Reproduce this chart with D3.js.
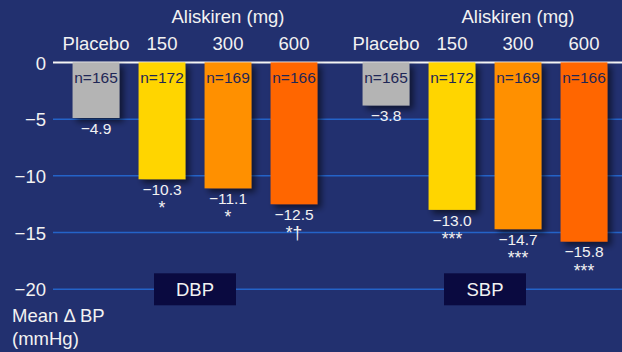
<!DOCTYPE html>
<html>
<head>
<meta charset="utf-8">
<script src="https://cdn.jsdelivr.net/npm/d3@7"></script>
<style>
  html, body { margin: 0; padding: 0; background: #22306f; }
  svg { display: block; font-family: "Liberation Sans", Arial, sans-serif; }
</style>
</head>
<body>
<svg id="chart" width="622" height="352"></svg>
<script>
// Mean change in blood pressure by dose, diastolic and systolic
const groups = ["DBP", "SBP"];
const doses = ["Placebo", "150", "300", "600"];
const dbpValues = [-4.9, -10.3, -11.1, -12.5];
const sbpValues = [-3.8, -13.0, -14.7, -15.8];
const dbpN = [165, 172, 169, 166];
const sbpN = [165, 172, 169, 166];
const dbpSig = ["", "*", "*", "*\u2020"];
const sbpSig = ["", "***", "***", "***"];
const yTicks = [0, -5, -10, -15, -20];
const doseColors = ["#b4b4b4", "#ffd500", "#ff9000", "#ff6600"];

const rows = [];
groups.forEach((g, gi) => {
  const vals = gi === 0 ? dbpValues : sbpValues;
  const ns = gi === 0 ? dbpN : sbpN;
  const sig = gi === 0 ? dbpSig : sbpSig;
  doses.forEach((d, i) => rows.push({ group: g, dose: d, value: vals[i], n: ns[i], sig: sig[i], color: doseColors[i] }));
});

const svg = d3.select("#chart");
const W = 622;

const y = d3.scaleLinear().domain([0, -20]).range([62.4, 289.3]);
const groupRange = { DBP: [63, 327], SBP: [353, 617] };
const x1 = {};
groups.forEach(g => {
  x1[g] = d3.scaleBand().domain(doses).range(groupRange[g]).paddingInner(0.29).paddingOuter(0.145);
});

// soft drop shadow behind bars
const defs = svg.append("defs");
const f = defs.append("filter").attr("id", "shadow").attr("x", "-20%").attr("y", "-20%").attr("width", "150%").attr("height", "150%");
f.append("feGaussianBlur").attr("in", "SourceAlpha").attr("stdDeviation", 3).attr("result", "b");
f.append("feOffset").attr("in", "b").attr("dx", 4).attr("dy", 4).attr("result", "o");
f.append("feComponentTransfer").attr("in", "o").attr("result", "s")
  .append("feFuncA").attr("type", "linear").attr("slope", 0.55);
const m = f.append("feMerge");
m.append("feMergeNode").attr("in", "s");
m.append("feMergeNode").attr("in", "SourceGraphic");

// y axis labels
const yAxis = d3.axisLeft(y).tickValues(yTicks).tickSize(0).tickPadding(0)
  .tickFormat(d => d === 0 ? "0" : "\u2212" + Math.abs(d));
const axisG = svg.append("g").attr("transform", "translate(46,0)").call(yAxis);
axisG.select(".domain").remove();
axisG.selectAll("text").attr("fill", "#f2f2f2").attr("font-size", 18.5).attr("dy", "0.36em")
  .attr("font-family", "Liberation Sans, Arial, sans-serif");

// gridlines, zero line in white
svg.append("g").selectAll("line").data(yTicks).join("line")
  .attr("x1", 53).attr("x2", W)
  .attr("y1", d => y(d)).attr("y2", d => y(d))
  .attr("stroke", d => d === 0 ? "#f4f4f4" : "#2463c8")
  .attr("stroke-width", d => d === 0 ? 2 : 1.5);

// bars
const bar = svg.append("g").selectAll("g").data(rows).join("g");
bar.append("rect")
  .attr("x", d => x1[d.group](d.dose))
  .attr("y", y(0))
  .attr("width", d => x1[d.group].bandwidth())
  .attr("height", d => y(d.value) - y(0))
  .attr("fill", d => d.color)
  .attr("filter", "url(#shadow)");

const cx = d => x1[d.group](d.dose) + x1[d.group].bandwidth() / 2;

bar.append("text")
  .attr("x", cx).attr("y", 82.7)
  .attr("text-anchor", "middle").attr("font-size", 15.5).attr("fill", "#1f2756")
  .text(d => "n=" + d.n);

bar.append("text")
  .attr("x", cx).attr("y", d => y(d.value) + 15.8)
  .attr("text-anchor", "middle").attr("font-size", 15.5).attr("fill", "#f2f2f2")
  .text(d => "\u2212" + Math.abs(d.value).toFixed(1));

bar.append("text")
  .attr("x", cx).attr("y", d => y(d.value) + 35)
  .attr("text-anchor", "middle").attr("font-size", 17.5).attr("fill", "#f2f2f2")
  .text(d => d.sig);

// dose headers and group labels
groups.forEach(g => {
  svg.append("g").selectAll("text").data(doses).join("text")
    .attr("x", d => x1[g](d) + x1[g].bandwidth() / 2)
    .attr("y", 50)
    .attr("text-anchor", "middle").attr("font-size", 18.5).attr("fill", "#f2f2f2")
    .text(d => d);
  svg.append("text")
    .attr("x", x1[g]("300") + x1[g].bandwidth() / 2).attr("y", 23)
    .attr("text-anchor", "middle").attr("font-size", 18.5).attr("fill", "#f2f2f2")
    .text("Aliskiren (mg)");
  const bx = (x1[g]("150") + x1[g]("300") + x1[g].bandwidth()) / 2;
  svg.append("rect").attr("x", bx - 41).attr("y", y(-20) - 16).attr("width", 82).attr("height", 32)
    .attr("fill", "#0a0a40");
  svg.append("text").attr("x", bx).attr("y", y(-20) + 6.5)
    .attr("text-anchor", "middle").attr("font-size", 18.5).attr("fill", "#f2f2f2").text(g);
});

// y axis title
svg.append("text").attr("x", 12).attr("y", 321.5).attr("font-size", 18.5).attr("fill", "#f2f2f2").text("Mean \u0394 BP");
svg.append("text").attr("x", 12).attr("y", 345).attr("font-size", 18.5).attr("fill", "#f2f2f2").text("(mmHg)");
</script>
</body>
</html>
